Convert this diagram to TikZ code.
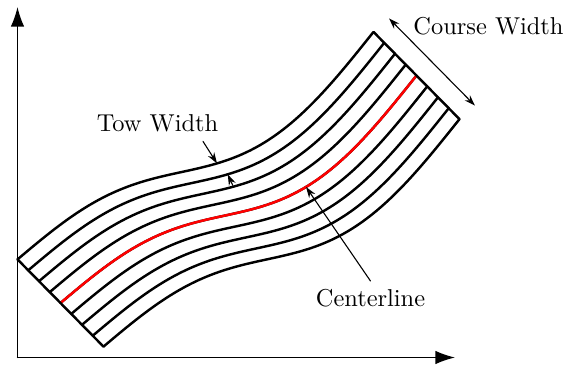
\documentclass[tikz,border=0pt]{standalone}
\usepackage{tikz}
\usetikzlibrary{calc,arrows.meta,positioning}
\definecolor{rojo}{HTML}{FF0000}

\begin{document}
\begin{tikzpicture}[x=1.44cm,y=1.44cm,line cap=round,
  declare function={
    cl(\x)=0.64+0.639*(\x-0.605)-0.233*sin(180*(\x-0.605)/3.56)+0.232*sin(360*(\x-0.605)/3.56);
  },
  tow/.style={line width=1pt},
  eje/.style={line width=0.6pt,-{Latex[length=8pt,width=5.5pt]}},
  flecha/.style={line width=0.45pt,-{Stealth[length=4.5pt,width=3pt]}},
  cota/.style={line width=0.45pt,{Stealth[length=4.5pt,width=3pt]}-{Stealth[length=4.5pt,width=3pt]}}]
  \useasboundingbox (0,0) rectangle (5.66,3.67);
  % ejes
  \coordinate (o) at (0.175,0.095);
  \coordinate (ey) at (0.175,3.60);
  \coordinate (ex) at (4.55,0.095);
  \draw[eje] (o) -- (ey);
  \draw[eje] (o) -- (ex);
  % mechas (copias desplazadas de la linea central)
  \foreach \k in {-4,...,4}{
    \draw[tow,shift={(\k*0.1075,-\k*0.109)}]
      plot[domain=0.605:4.165,samples=120,smooth] (\x,{cl(\x)});
  }
  \draw[tow,rojo] plot[domain=0.605:4.165,samples=120,smooth] (\x,{cl(\x)});
  % extremos
  \coordinate (ls) at (0.175,{cl(0.605)+0.436});
  \coordinate (li) at (1.035,{cl(0.605)-0.436});
  \coordinate (rs) at (3.735,{cl(4.165)+0.436});
  \coordinate (ri) at (4.595,{cl(4.165)-0.436});
  \draw[tow] (ls) -- (li);
  \draw[tow] (rs) -- (ri);
  % ancho del curso
  \coordinate (cw1) at ($(rs)+(0.155,0.135)$);
  \coordinate (cw2) at ($(ri)+(0.155,0.135)$);
  \draw[cota] (cw1) -- (cw2);
  \node (cw) at (4.885,3.41) {Course Width};
  % ancho de mecha
  \node (tw) at (1.575,2.44) {Tow Width};
  \coordinate (tw1) at ({2.60-0.43},{cl(2.60)+0.436});
  \coordinate (tw2) at ({2.60-0.3225},{cl(2.60)+0.327});
  \coordinate (tw1a) at ($(tw1)+(-0.14,0.22)$);
  \coordinate (tw2a) at ($(tw2)+(0.05,-0.11)$);
  \draw[flecha] (tw1a) -- (tw1);
  \draw[flecha] (tw2a) -- (tw2);
  % linea central
  \coordinate (cen) at (3.06,{cl(3.06)});
  \node (lcl) at (3.705,0.685) {Centerline};
  \draw[flecha] (lcl.north) -- (cen);
\end{tikzpicture}
\end{document}
